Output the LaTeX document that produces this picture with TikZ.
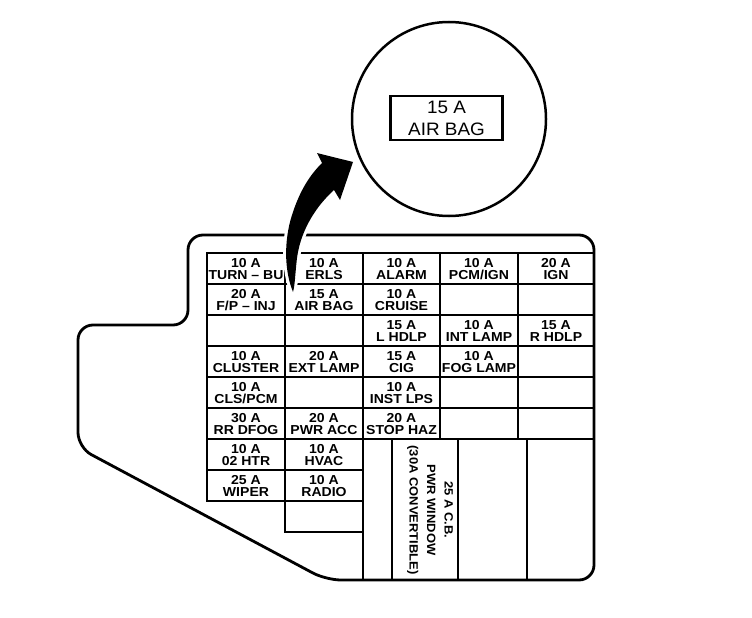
\documentclass[tikz,border=0pt]{standalone}
\usepackage{fontspec}
\newfontfamily\cellfont{Liberation Sans}[FakeStretch=1.08]
\newfontfamily\tagfont{Liberation Sans}[FakeStretch=1.05]
\tikzset{
  celltxt/.style={font=\cellfont\bfseries\fontsize{13}{12}\selectfont, align=center, anchor=north, inner sep=0pt},
  rottxt/.style={font=\cellfont\bfseries\fontsize{12}{17.5}\selectfont, align=center, rotate=-90, inner sep=0pt},
  gridline/.style={line width=2.6pt, line cap=rect},
  outline/.style={line width=2.8pt, rounded corners=15pt},
}
\begin{document}
\begin{tikzpicture}[x=1pt,y=-1pt]
\useasboundingbox (0,0) rectangle (752,618);
% housing outline
\draw[outline] (130,325) -- (188,325) -- (188,235) -- (594,235) -- (594,580) -- (326,580) -- (78,447.5) -- (78,325) -- cycle;
% grid
\foreach \y in {253,284,315,346,377,408,439} \draw[gridline] (207,\y) -- (594,\y);
\foreach \y in {470,501} \draw[gridline] (207,\y) -- (363,\y);
\draw[gridline] (285,532) -- (363,532);
\draw[gridline] (207,253) -- (207,501);
\draw[gridline] (285,253) -- (285,532);
\draw[gridline] (363,253) -- (363,580);
\draw[gridline] (440,253) -- (440,439);
\draw[gridline] (518,253) -- (518,439);
\foreach \x in {392,458,527} \draw[gridline] (\x,439) -- (\x,580);
% cell texts
\node[celltxt] (c00) at (246,258) {10 A\\TURN – BU};
\node[celltxt] (c01) at (324,258) {10 A\\ERLS};
\node[celltxt] (c02) at (401.5,258) {10 A\\ALARM};
\node[celltxt] (c03) at (479,258) {10 A\\PCM/IGN};
\node[celltxt] (c04) at (556,258) {20 A\\IGN};
\node[celltxt] (c10) at (246,289) {20 A\\F/P – INJ};
\node[celltxt] (c11) at (324,289) {15 A\\AIR BAG};
\node[celltxt] (c12) at (401.5,289) {10 A\\CRUISE};
\node[celltxt] (c22) at (401.5,320) {15 A\\L HDLP};
\node[celltxt] (c23) at (479,320) {10 A\\INT LAMP};
\node[celltxt] (c24) at (556,320) {15 A\\R HDLP};
\node[celltxt] (c30) at (246,351) {10 A\\CLUSTER};
\node[celltxt] (c31) at (324,351) {20 A\\EXT LAMP};
\node[celltxt] (c32) at (401.5,351) {15 A\\CIG};
\node[celltxt] (c33) at (479,351) {10 A\\FOG LAMP};
\node[celltxt] (c40) at (246,382) {10 A\\CLS/PCM};
\node[celltxt] (c42) at (401.5,382) {10 A\\INST LPS};
\node[celltxt] (c50) at (246,413) {30 A\\RR DFOG};
\node[celltxt] (c51) at (324,413) {20 A\\PWR ACC};
\node[celltxt] (c52) at (401.5,413) {20 A\\STOP HAZ};
\node[celltxt] (c60) at (246,444) {10 A\\02 HTR};
\node[celltxt] (c61) at (324,444) {10 A\\HVAC};
\node[celltxt] (c70) at (246,475) {25 A\\WIPER};
\node[celltxt] (c71) at (324,475) {10 A\\RADIO};
\node[rottxt] (cb) at (430,510) {25 A C.B.\\PWR WINDOW\\(30A CONVERTIBLE)};
% pointer arrow
\path[fill=black, preaction={draw=white, line width=6pt, line join=round}]
  (293,292) .. controls (284,270) and (284,240) .. (292,215)
  .. controls (300,190) and (310,175) .. (322,163)
  -- (317,153) -- (353,162) -- (340,200) -- (334,190)
  .. controls (312,210) and (300,235) .. (297,258)
  .. controls (295,275) and (295,285) .. (293,292) -- cycle;
% magnified view
\node[draw, circle, line width=2.5pt, minimum size=194pt, inner sep=0pt] (zoomc) at (449,119) {};
\node[draw, line width=2.2pt, minimum width=112pt, minimum height=44pt, inner sep=0pt,
      font=\tagfont\fontsize{18}{22}\selectfont, align=center] (tag) at (446.5,118) {15 A\\AIR BAG};
\end{tikzpicture}
\end{document}
